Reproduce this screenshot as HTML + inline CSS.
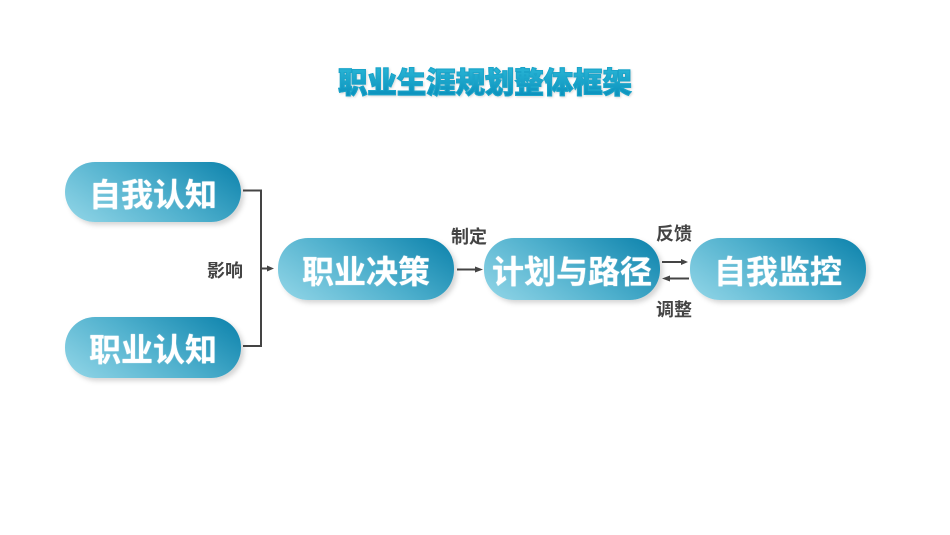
<!DOCTYPE html>
<html lang="zh">
<head>
<meta charset="utf-8">
<style>
html,body{margin:0;padding:0;background:#fff}
#s{position:relative;width:950px;height:535px;overflow:hidden;background:#fff;font-family:"Liberation Sans","Noto Sans CJK SC",sans-serif}
.p{position:absolute;width:176px;border-radius:30px;background:linear-gradient(35deg,#8fd4e6 3%,#4fb0cd 50%,#0f84ad 97%);box-shadow:3px 3px 5px rgba(90,90,90,.25);color:#fff;font-weight:700;font-size:32px;text-align:center;white-space:nowrap;text-shadow:0 0 1px #fff}
.p span{position:relative;top:3px}
.l{position:absolute;font-weight:700;font-size:18px;line-height:20px;color:#444;white-space:nowrap}
#t{position:absolute;left:335px;top:63px;width:300px;text-align:center;font-weight:900;font-size:29.4px;line-height:42px;white-space:nowrap;background:linear-gradient(180deg,#25b0d2 20%,#0a90bc 80%);-webkit-background-clip:text;background-clip:text;color:transparent;-webkit-text-stroke:1px #1ba4c9;filter:drop-shadow(1px 1px 1px rgba(0,0,0,.15))}
svg{position:absolute;left:0;top:0}
</style>
</head>
<body>
<div id="s">
<div id="t">职业生涯规划整体框架</div>
<div class="p" style="left:65px;top:162px;height:60px;line-height:60px;"><span>自我认知</span></div>
<div class="p" style="left:65px;top:317px;height:61px;line-height:61px;"><span>职业认知</span></div>
<div class="p" style="left:278px;top:238px;height:62px;line-height:62px;"><span>职业决策</span></div>
<div class="p" style="left:484px;top:238px;height:62px;line-height:62px;"><span>计划与路径</span></div>
<div class="p" style="left:690px;top:238px;height:62px;line-height:62px;"><span>自我监控</span></div>
<svg width="950" height="535" viewBox="0 0 950 535">
<g fill="none" stroke="#444" stroke-width="2">
<path d="M243 190.500H261V346H243"/>
<path d="M261 268.500H268" />
<path d="M457 269.500H476" />
<path d="M662 262H682" />
<path d="M668 278.500H689" />
</g>
<g fill="#444">
<path d="M267 265.500L274 268.500L267 271.500Z"/>
<path d="M475 266.500L483 269.500L475 272.500Z"/>
<path d="M681 259L688 262L681 265Z"/>
<path d="M670 275.500L662 278.500L670 281.500Z"/>
</g>
</svg>
<div class="l" style="left:207px;top:261px;">影响</div>
<div class="l" style="left:451px;top:227px;">制定</div>
<div class="l" style="left:656px;top:224px;">反馈</div>
<div class="l" style="left:656px;top:300px;">调整</div>
</div>
</body>
</html>
